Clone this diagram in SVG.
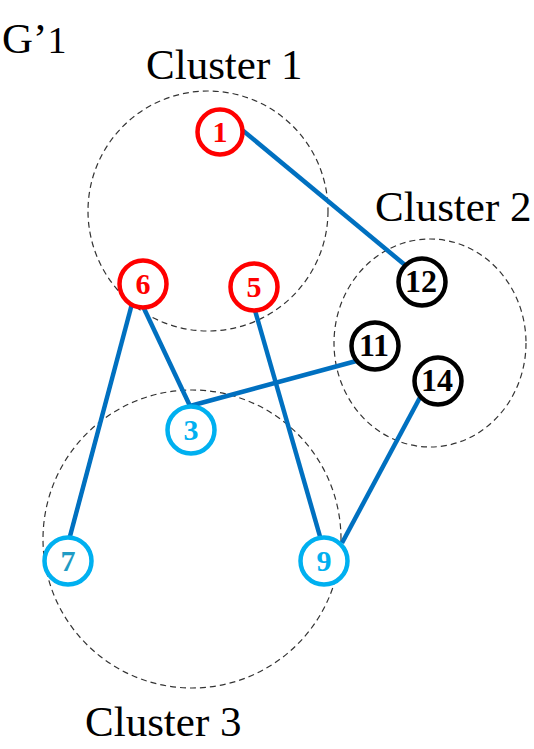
<svg xmlns="http://www.w3.org/2000/svg" width="534" height="749" viewBox="0 0 534 749">
<style>
.bg{fill:#fff}
.cl{fill:none;stroke:#333;stroke-width:1.2;stroke-dasharray:6 4}
.lbl{font-family:"Liberation Serif","Times New Roman",serif;font-size:43px;fill:#000}
.e{stroke:#0070C0;stroke-width:4.5;stroke-linecap:butt}
.n{fill:#fff;stroke-width:4.5}
.t{font-family:"Liberation Serif","Times New Roman",serif;font-weight:bold;text-anchor:middle}
.s{font-size:30px}
.d{font-size:32px}
.red circle{stroke:#FF0000}.red text{fill:#FF0000}
.cyan circle{stroke:#00B0F0}.cyan text{fill:#00B0F0}
.blk circle{stroke:#000}.blk text{fill:#000}
</style>
<rect class="bg" x="0" y="0" width="534" height="749"/>
<g id="title"><text class="lbl" x="2" y="53" font-size="45">G’<tspan font-size="38">1</tspan></text></g>
<g id="cluster1"><circle class="cl" cx="208" cy="211" r="120"/><text class="lbl" x="146" y="79">Cluster 1</text></g>
<g id="cluster2"><ellipse class="cl" cx="430" cy="343" rx="96" ry="104"/><text class="lbl" x="375" y="221">Cluster 2</text></g>
<g id="cluster3"><circle class="cl" cx="192" cy="539" r="149"/><text class="lbl" x="85" y="736">Cluster 3</text></g>
<g id="connectors">
<line class="e" x1="235" y1="124" x2="405" y2="265"/>
<line class="e" x1="133" y1="300" x2="69" y2="540"/>
<line class="e" x1="140" y1="300" x2="190" y2="406"/>
<line class="e" x1="190" y1="406" x2="360" y2="360"/>
<line class="e" x1="252" y1="300" x2="321" y2="540"/>
<line class="e" x1="424" y1="390" x2="342" y2="543"/>
</g>
<g id="n1" class="red"><circle class="n" cx="220" cy="132" r="22.5"/><text class="t s" x="220" y="142">1</text></g>
<g id="n6" class="red"><circle class="n" cx="143" cy="284" r="23.5"/><text class="t s" x="143" y="294">6</text></g>
<g id="n5" class="red"><circle class="n" cx="254" cy="287" r="23.5"/><text class="t s" x="254" y="297">5</text></g>
<g id="n12" class="blk"><circle class="n" cx="422" cy="282" r="23.5"/><text class="t d" x="421" y="292">12</text></g>
<g id="n11" class="blk"><circle class="n" cx="375" cy="346" r="23.5"/><text class="t d" x="374" y="356">11</text></g>
<g id="n14" class="blk"><circle class="n" cx="438" cy="381" r="23.5"/><text class="t d" x="437" y="391">14</text></g>
<g id="n3" class="cyan"><circle class="n" cx="191" cy="430" r="23.5"/><text class="t s" x="191" y="440">3</text></g>
<g id="n7" class="cyan"><circle class="n" cx="68" cy="561" r="23.5"/><text class="t s" x="68" y="571" style="fill:#1F9BC4">7</text></g>
<g id="n9" class="cyan"><circle class="n" cx="324" cy="561" r="23.5"/><text class="t s" x="324" y="571">9</text></g>
</svg>
